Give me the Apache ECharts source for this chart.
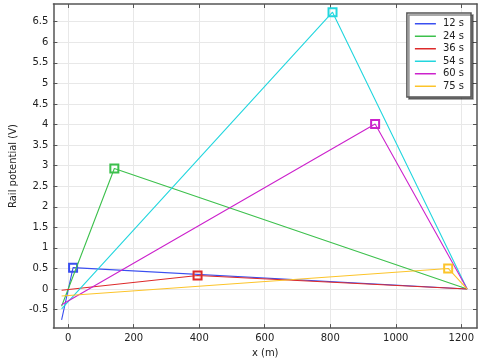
<!DOCTYPE html>
<html><head><meta charset="utf-8">
<script src="https://cdn.jsdelivr.net/npm/echarts@6/dist/echarts.min.js"></script>
<style>html,body{margin:0;padding:0;background:#fff}#c{width:481px;height:363px}</style>
</head><body><div id="c"></div>
<script>
const seriesNames = ['12 s','24 s','36 s','54 s','60 s','75 s'];
const colors = ['#3a4ff0','#3cc04c','#dd2a2a','#22d6de','#cc22cc','#fcc42a'];
const xStart = [-20,-20,-20,-20,-20,-20];
const yStart = [-0.75,-0.42,-0.03,-0.48,-0.38,-0.17];
const xPeak = [15,141,395,807,937,1160];
const yPeak = [0.52,2.93,0.33,6.73,4.01,0.5];
const xEnd = [1218,1218,1218,1218,1218,1218];
const yEnd = [0,0,0,0,0,0];
const xTicks = [0,200,400,600,800,1000,1200];
const yTicks = [-0.5,0,0.5,1,1.5,2,2.5,3,3.5,4,4.5,5,5.5,6,6.5];

const font = 'DejaVu Sans';
const axisCol = '#555';
function mkX(pos, main){
  return {type:'value', position:pos, min:-45, max:1248,
    axisLine:{show:true,onZero:false,lineStyle:{color:axisCol,width:1.5}},
    axisTick:{show:true,inside:true,length:4,customValues:xTicks,lineStyle:{color:axisCol}},
    axisLabel:{show:main,customValues:xTicks,formatter:v=>String(v),color:'#222',fontFamily:font,fontSize:10,margin:5},
    splitLine:{show:main,lineStyle:{color:'#e8e8e8',width:1}},
    name: main?'x (m)':'', nameLocation:'middle', nameGap:16,
    nameTextStyle:{color:'#222',fontFamily:font,fontSize:10}};
}
function mkY(pos, main){
  return {type:'value', position:pos, min:-0.95, max:6.93,
    axisLine:{show:true,onZero:false,lineStyle:{color:axisCol,width:1.5}},
    axisTick:{show:true,inside:true,length:4,customValues:yTicks,lineStyle:{color:axisCol}},
    axisLabel:{show:main,customValues:yTicks,formatter:v=>String(v),color:'#222',fontFamily:font,fontSize:10,margin:5},
    splitLine:{show:main,lineStyle:{color:'#e8e8e8',width:1}},
    name: main?'Rail potential (V)':'', nameLocation:'middle', nameGap:33,
    nameTextStyle:{color:'#222',fontFamily:font,fontSize:10}};
}
const series = seriesNames.map((n,i)=>({
  name:n, type:'line', xAxisIndex:0, yAxisIndex:0,
  data:[[xStart[i],yStart[i]],[xPeak[i],yPeak[i]],[xEnd[i],yEnd[i]]],
  symbol:'rect', symbolSize:(v,p)=>p.dataIndex===1?8:0,
  showAllSymbol:true,
  lineStyle:{color:colors[i],width:1.1},
  itemStyle:{color:'rgba(255,255,255,0)',borderColor:colors[i],borderWidth:2},
  emphasis:{disabled:true}, animation:false, z:2+i
}));
const chart = echarts.init(document.getElementById('c'),null,{renderer:'canvas'});
chart.setOption({
  animation:false,
  grid:{left:48,right:4,top:4,bottom:28,containLabel:false},
  xAxis:[mkX('bottom',true),mkX('top',false)],
  yAxis:[mkY('left',true),mkY('right',false)],
  legend:{orient:'vertical',right:10,top:13,
    data:seriesNames.map((n,i)=>({name:n,icon:'rect',itemStyle:{color:colors[i],borderWidth:0}})),
    itemWidth:21,itemHeight:1.5,itemGap:1,
    itemStyle:{borderWidth:0},
    textStyle:{color:'#222',fontFamily:font,fontSize:10,lineHeight:11.5,padding:[0,0,0,2]},
    padding:[5,7,5,8],
    backgroundColor:'#fff',borderColor:'#555',borderWidth:1.5,
    shadowColor:'rgba(0,0,0,0.45)',shadowOffsetX:2,shadowOffsetY:2,shadowBlur:0,
    selectedMode:false},
  series
});
</script></body></html>
